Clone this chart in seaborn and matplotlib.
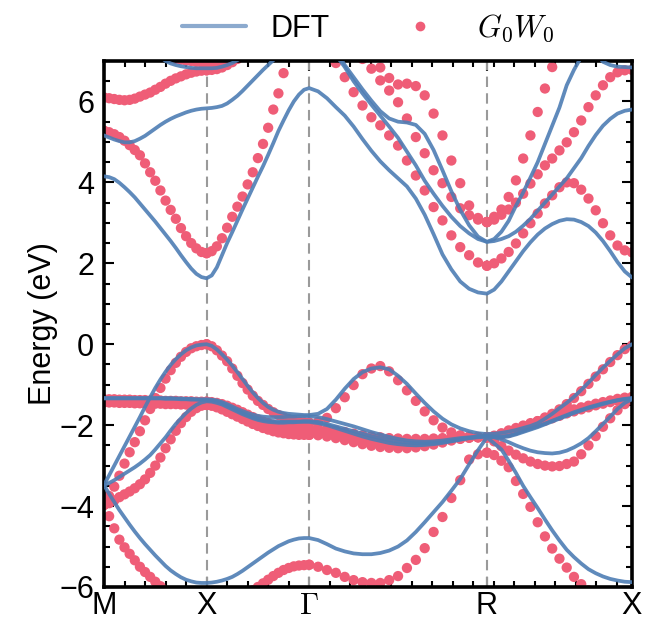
import numpy as np
import pandas as pd
import matplotlib
matplotlib.use("Agg")
import matplotlib.pyplot as plt
import seaborn as sns
from matplotlib.ticker import MultipleLocator
from matplotlib.lines import Line2D

# ---------------- path ----------------
kpath_labels = ["M", "X", r"$\Gamma$", "R", "X"]
segment_lengths = [1.0, 1.0, np.sqrt(3.0), np.sqrt(2.0)]
n_per_segment = 21

# ---------------- DFT bands (segments: M-X, X-G, G-R, R-X) ----------------
dft_v1 = [
    [-3.48,-3.24,-3.0,-2.76,-2.52,-2.28,-2.04,-1.8,-1.55,-1.31,-1.08,-0.87,-0.68,-0.51,-0.37,-0.25,-0.15,-0.08,-0.03,-0.01,0.0],
    [0.0,-0.04,-0.13,-0.25,-0.38,-0.53,-0.69,-0.86,-1.03,-1.19,-1.33,-1.45,-1.55,-1.62,-1.67,-1.7,-1.72,-1.73,-1.74,-1.75,-1.75],
    [-1.75,-1.72,-1.6,-1.37,-1.1,-0.86,-0.69,-0.6,-0.57,-0.62,-0.78,-0.98,-1.22,-1.45,-1.66,-1.84,-1.98,-2.08,-2.15,-2.2,-2.22],
    [-2.22,-2.21,-2.19,-2.16,-2.12,-2.07,-2.02,-1.95,-1.84,-1.72,-1.58,-1.45,-1.3,-1.13,-0.95,-0.76,-0.58,-0.41,-0.25,-0.1,0.0],
]
dft_v2 = [
    [-1.33,-1.33,-1.33,-1.33,-1.33,-1.33,-1.33,-1.33,-1.33,-1.33,-1.33,-1.33,-1.33,-1.33,-1.34,-1.34,-1.35,-1.35,-1.36,-1.36,-1.36],
    [-1.36,-1.37,-1.39,-1.43,-1.48,-1.54,-1.6,-1.65,-1.7,-1.74,-1.77,-1.79,-1.8,-1.8,-1.8,-1.8,-1.79,-1.79,-1.78,-1.78,-1.78],
    [-1.78,-1.8,-1.85,-1.91,-1.97,-2.03,-2.1,-2.17,-2.23,-2.29,-2.34,-2.38,-2.4,-2.41,-2.4,-2.38,-2.35,-2.32,-2.3,-2.28,-2.27],
    [-2.27,-2.28,-2.28,-2.26,-2.21,-2.15,-2.09,-2.03,-1.96,-1.89,-1.82,-1.75,-1.68,-1.62,-1.56,-1.51,-1.46,-1.42,-1.38,-1.35,-1.33],
]
dft_v3 = [
    [-1.34,-1.34,-1.34,-1.34,-1.34,-1.34,-1.34,-1.34,-1.34,-1.34,-1.34,-1.34,-1.35,-1.35,-1.35,-1.36,-1.36,-1.37,-1.37,-1.38,-1.38],
    [-1.38,-1.39,-1.42,-1.46,-1.52,-1.58,-1.64,-1.7,-1.75,-1.8,-1.84,-1.87,-1.89,-1.9,-1.91,-1.91,-1.91,-1.91,-1.91,-1.9,-1.9],
    [-1.9,-1.92,-1.97,-2.03,-2.09,-2.15,-2.21,-2.27,-2.32,-2.37,-2.41,-2.43,-2.45,-2.45,-2.44,-2.42,-2.39,-2.35,-2.32,-2.29,-2.28],
    [-2.28,-2.29,-2.3,-2.28,-2.23,-2.17,-2.11,-2.05,-1.98,-1.91,-1.84,-1.77,-1.7,-1.64,-1.58,-1.53,-1.48,-1.43,-1.39,-1.36,-1.34],
]
dft_v4 = [
    [-3.48,-3.43,-3.36,-3.28,-3.2,-3.12,-3.04,-2.95,-2.85,-2.74,-2.6,-2.45,-2.3,-2.13,-1.97,-1.83,-1.7,-1.59,-1.5,-1.44,-1.41],
    [-1.41,-1.42,-1.45,-1.49,-1.55,-1.61,-1.67,-1.73,-1.78,-1.83,-1.87,-1.9,-1.92,-1.93,-1.94,-1.94,-1.93,-1.93,-1.92,-1.92,-1.92],
    [-1.92,-1.95,-2.0,-2.07,-2.14,-2.21,-2.28,-2.34,-2.39,-2.44,-2.47,-2.49,-2.5,-2.49,-2.47,-2.44,-2.4,-2.36,-2.32,-2.3,-2.28],
    [-2.28,-2.3,-2.35,-2.42,-2.5,-2.57,-2.63,-2.67,-2.69,-2.7,-2.68,-2.63,-2.55,-2.45,-2.32,-2.15,-1.97,-1.79,-1.6,-1.45,-1.36],
]
dft_v5 = [
    [-3.48,-3.7,-3.9,-4.1,-4.28,-4.46,-4.63,-4.79,-4.94,-5.08,-5.22,-5.35,-5.48,-5.59,-5.68,-5.76,-5.82,-5.86,-5.89,-5.9,-5.9],
    [-5.9,-5.89,-5.87,-5.84,-5.8,-5.75,-5.68,-5.6,-5.51,-5.42,-5.33,-5.24,-5.15,-5.07,-4.99,-4.93,-4.87,-4.83,-4.8,-4.79,-4.79],
    [-4.79,-4.84,-4.94,-5.05,-5.12,-5.17,-5.19,-5.19,-5.16,-5.1,-5.0,-4.85,-4.64,-4.4,-4.15,-3.9,-3.62,-3.33,-2.97,-2.62,-2.3],
    [-2.3,-2.45,-2.6,-2.88,-3.18,-3.5,-3.78,-4.05,-4.33,-4.6,-4.85,-5.08,-5.26,-5.42,-5.56,-5.66,-5.74,-5.8,-5.84,-5.87,-5.88],
]
dft_c1 = [
    [4.15,4.13,4.08,3.99,3.88,3.76,3.63,3.48,3.33,3.18,3.03,2.87,2.71,2.55,2.38,2.2,2.03,1.87,1.74,1.66,1.63],
    [1.63,1.7,1.9,2.2,2.5,2.77,3.05,3.33,3.6,3.87,4.14,4.4,4.68,4.97,5.27,5.53,5.78,6.0,6.17,6.29,6.33],
    [6.33,6.25,6.08,5.86,5.65,5.38,5.07,4.78,4.52,4.3,4.1,3.9,3.6,3.2,2.72,2.22,1.85,1.55,1.37,1.28,1.25],
    [1.25,1.35,1.55,1.8,2.05,2.3,2.52,2.71,2.86,2.97,3.05,3.09,3.08,3.02,2.92,2.76,2.55,2.3,2.03,1.8,1.65],
]
dft_c2 = [
    [5.16,5.11,5.06,5.02,4.99,4.99,5.02,5.08,5.15,5.24,5.33,5.42,5.5,5.57,5.63,5.68,5.73,5.77,5.8,5.82,5.83],
    [5.83,5.84,5.86,5.89,5.95,6.04,6.14,6.26,6.39,6.52,6.65,6.78,6.9,7.02,7.14,7.25,7.35,7.43,7.49,7.52,7.53],
    [7.53,7.5,7.4,7.15,6.85,6.5,6.2,5.92,5.65,5.38,5.1,4.76,4.42,4.04,3.72,3.42,3.15,2.92,2.74,2.6,2.53],
    [2.53,2.55,2.6,2.67,2.78,2.93,3.1,3.3,3.5,3.7,3.9,4.1,4.35,4.6,4.9,5.17,5.4,5.57,5.7,5.77,5.8],
]
dft_c3 = [
    [8.2,8.15,8.1,8.0,7.9,7.8,7.7,7.55,7.42,7.3,7.2,7.1,7.0,6.94,6.9,6.87,6.85,6.83,6.82,6.82,6.82],
    [6.82,6.82,6.83,6.86,6.9,6.95,7.02,7.1,7.2,7.3,7.4,7.5,7.6,7.7,7.8,7.88,7.95,8.0,8.03,8.05,8.05],
    [8.05,7.95,7.7,7.25,6.9,6.6,6.3,6.02,5.76,5.58,5.5,5.48,5.42,5.2,4.8,4.3,3.78,3.32,2.94,2.66,2.53],
    [2.53,2.6,2.78,3.05,3.42,3.75,4.12,4.5,4.95,5.4,5.85,6.4,6.78,7.1,7.25,7.2,6.98,6.9,6.86,6.85,6.84],
]

# ---------------- G0W0 bands ----------------
gw_v1 = [
    [-3.97,-3.75,-3.52,-3.25,-2.95,-2.67,-2.42,-2.15,-1.88,-1.6,-1.33,-1.08,-0.85,-0.64,-0.46,-0.31,-0.19,-0.1,-0.05,-0.02,0.0],
    [0.0,-0.05,-0.15,-0.28,-0.42,-0.6,-0.78,-0.96,-1.12,-1.27,-1.4,-1.5,-1.6,-1.68,-1.75,-1.8,-1.85,-1.88,-1.91,-1.93,-1.94],
    [-1.94,-1.92,-1.82,-1.58,-1.31,-1.01,-0.74,-0.6,-0.54,-0.67,-0.89,-1.14,-1.4,-1.66,-1.88,-2.06,-2.18,-2.25,-2.28,-2.29,-2.3],
    [-2.3,-2.28,-2.24,-2.19,-2.13,-2.06,-1.98,-1.9,-1.81,-1.72,-1.61,-1.48,-1.33,-1.16,-0.98,-0.8,-0.62,-0.44,-0.27,-0.12,-0.03],
]
gw_v2 = [
    [-1.36,-1.36,-1.36,-1.37,-1.37,-1.37,-1.38,-1.38,-1.38,-1.39,-1.39,-1.39,-1.4,-1.4,-1.4,-1.41,-1.41,-1.41,-1.42,-1.42,-1.42],
    [-1.42,-1.43,-1.45,-1.48,-1.52,-1.57,-1.62,-1.68,-1.74,-1.8,-1.86,-1.91,-1.95,-1.99,-2.02,-2.04,-2.06,-2.07,-2.08,-2.08,-2.08],
    [-2.08,-2.08,-2.1,-2.13,-2.17,-2.21,-2.25,-2.28,-2.3,-2.32,-2.33,-2.34,-2.34,-2.34,-2.33,-2.32,-2.31,-2.3,-2.3,-2.3,-2.3],
    [-2.3,-2.26,-2.2,-2.13,-2.07,-2.01,-1.95,-1.9,-1.85,-1.79,-1.72,-1.66,-1.61,-1.56,-1.52,-1.47,-1.43,-1.39,-1.35,-1.32,-1.3],
]
gw_v3 = [
    [-1.44,-1.44,-1.44,-1.45,-1.45,-1.45,-1.46,-1.46,-1.46,-1.47,-1.47,-1.47,-1.48,-1.48,-1.48,-1.49,-1.49,-1.49,-1.5,-1.5,-1.5],
    [-1.5,-1.51,-1.53,-1.56,-1.6,-1.65,-1.7,-1.76,-1.82,-1.88,-1.94,-1.99,-2.03,-2.07,-2.1,-2.12,-2.14,-2.15,-2.16,-2.16,-2.16],
    [-2.16,-2.17,-2.2,-2.24,-2.29,-2.34,-2.38,-2.42,-2.45,-2.47,-2.48,-2.48,-2.47,-2.45,-2.42,-2.39,-2.36,-2.33,-2.31,-2.3,-2.3],
    [-2.3,-2.28,-2.23,-2.17,-2.11,-2.05,-1.99,-1.94,-1.89,-1.83,-1.77,-1.71,-1.66,-1.61,-1.56,-1.51,-1.47,-1.43,-1.39,-1.36,-1.34],
]
gw_v4 = [
    [-3.97,-3.93,-3.86,-3.78,-3.71,-3.64,-3.56,-3.46,-3.34,-3.18,-3.0,-2.8,-2.57,-2.35,-2.14,-1.95,-1.8,-1.67,-1.58,-1.52,-1.5],
    [-1.5,-1.52,-1.56,-1.61,-1.67,-1.73,-1.79,-1.85,-1.91,-1.97,-2.02,-2.07,-2.11,-2.15,-2.18,-2.2,-2.22,-2.23,-2.24,-2.24,-2.24],
    [-2.24,-2.25,-2.28,-2.32,-2.37,-2.42,-2.47,-2.51,-2.54,-2.56,-2.57,-2.57,-2.55,-2.52,-2.48,-2.43,-2.38,-2.34,-2.31,-2.3,-2.3],
    [-2.3,-2.4,-2.52,-2.63,-2.73,-2.82,-2.9,-2.96,-3.0,-3.02,-3.01,-2.96,-2.9,-2.72,-2.5,-2.27,-2.04,-1.83,-1.63,-1.48,-1.38],
]
gw_v5 = [
    [-3.97,-4.25,-4.55,-4.83,-5.02,-5.18,-5.34,-5.5,-5.63,-5.75,-5.87,-5.98,-6.1,-6.2,-6.3,-6.4,-6.48,-6.54,-6.58,-6.6,-6.6],
    [-6.6,-6.6,-6.57,-6.53,-6.47,-6.4,-6.32,-6.24,-6.16,-6.08,-6.0,-5.91,-5.82,-5.73,-5.65,-5.58,-5.53,-5.49,-5.47,-5.46,-5.45],
    [-5.45,-5.5,-5.58,-5.65,-5.75,-5.83,-5.88,-5.9,-5.9,-5.83,-5.73,-5.53,-5.33,-5.04,-4.64,-4.27,-3.8,-3.36,-2.85,-2.72,-2.68],
    [-2.68,-2.74,-2.88,-3.04,-3.38,-3.7,-4.02,-4.4,-4.75,-5.05,-5.3,-5.52,-5.75,-5.93,-6.08,-6.22,-6.35,-6.45,-6.52,-6.57,-6.6],
]
gw_c1 = [
    [5.28,5.24,5.19,5.12,5.03,4.92,4.8,4.67,4.47,4.25,4.04,3.8,3.55,3.32,3.1,2.87,2.67,2.5,2.37,2.28,2.25],
    [2.25,2.3,2.42,2.62,2.88,3.15,3.4,3.65,3.95,4.25,4.6,4.95,5.35,5.8,6.2,6.7,7.1,7.4,7.6,7.7,7.75],
    [7.75,7.6,7.3,6.95,6.6,6.23,5.9,5.61,5.41,5.16,4.91,4.54,4.17,3.8,3.39,3.06,2.69,2.4,2.2,2.02,1.94],
    [1.94,2.0,2.12,2.28,2.49,2.74,2.99,3.23,3.48,3.68,3.88,4.0,3.98,3.82,3.6,3.31,2.99,2.69,2.44,2.32,2.27],
]
gw_c2 = [
    [6.1,6.08,6.06,6.04,6.03,6.04,6.07,6.12,6.17,6.22,6.29,6.36,6.44,6.51,6.57,6.62,6.67,6.71,6.74,6.76,6.77],
    [6.77,6.78,6.8,6.84,6.9,6.97,7.05,7.15,7.25,7.36,7.47,7.58,7.68,7.78,7.87,7.95,8.02,8.08,8.12,8.14,8.15],
    [8.15,8.12,8.03,7.88,7.6,7.3,7.05,6.81,6.52,6.27,5.98,5.58,5.12,4.72,4.3,3.98,3.64,3.36,3.19,3.08,3.02],
    [3.02,3.08,3.2,3.33,3.5,3.72,3.97,4.2,4.42,4.59,4.79,4.99,5.24,5.53,5.86,6.15,6.4,6.6,6.72,6.77,6.78],
]
gw_c3 = [
    [7.9,7.85,7.8,7.75,7.7,7.6,7.5,7.4,7.3,7.25,7.2,7.15,7.1,7.07,7.05,7.03,7.01,7.0,6.98,6.97,6.97],
    [6.97,6.98,7.02,7.08,7.18,7.3,7.4,7.5,7.6,7.7,7.8,7.9,8.0,8.1,8.2,8.3,8.35,8.4,8.45,8.5,8.5],
    [8.5,8.5,8.4,8.3,8.1,7.85,7.55,7.2,6.84,6.58,6.42,6.44,6.38,6.15,5.7,5.16,4.54,3.98,3.43,3.12,3.02],
    [3.02,3.15,3.33,3.64,4.05,4.59,5.16,5.74,6.32,6.85,7.3,7.6,7.8,7.9,7.8,7.6,7.4,7.25,7.15,7.1,7.1],
]

dft_bands = {"v1": dft_v1, "v2": dft_v2, "v3": dft_v3, "v4": dft_v4, "v5": dft_v5,
             "c1": dft_c1, "c2": dft_c2, "c3": dft_c3}
gw_bands = {"v1": gw_v1, "v2": gw_v2, "v3": gw_v3, "v4": gw_v4, "v5": gw_v5,
            "c1": gw_c1, "c2": gw_c2, "c3": gw_c3}

# ---------------- k coordinates ----------------
nodes = np.concatenate([[0.0], np.cumsum(segment_lengths)])
k_segments = [np.linspace(nodes[i], nodes[i + 1], n_per_segment) for i in range(4)]
k_all = np.concatenate(k_segments)


def to_frame(bands):
    rows = []
    for name, segs in bands.items():
        e = np.concatenate([np.asarray(s, float) for s in segs])
        rows.append(pd.DataFrame({"k": k_all, "E": e, "band": name}))
    return pd.concat(rows, ignore_index=True)


df_dft = to_frame(dft_bands)
df_gw = to_frame(gw_bands)

# ---------------- style ----------------
sns.set_theme(style="ticks")
plt.rcParams["font.family"] = ["Liberation Sans", "DejaVu Sans"]
plt.rcParams["mathtext.fontset"] = "cm"
plt.rcParams["axes.unicode_minus"] = True
for key in ["text.color", "axes.labelcolor", "xtick.color", "ytick.color",
            "axes.edgecolor", "xtick.labelcolor", "ytick.labelcolor"]:
    plt.rcParams[key] = "black"

blue = "#4e7db4"
pink = "#ef5d77"
FS = 22

fig = plt.figure(figsize=(6.55, 6.24), dpi=100)
ax = fig.add_axes([104 / 655, 1 - 587 / 624, (632 - 104) / 655, (587 - 61) / 624])

for xv in nodes[1:-1]:
    ax.axvline(xv, color="#9a9a9a", lw=1.5, ls=(0, (5, 3)), zorder=1)

sns.scatterplot(data=df_gw, x="k", y="E", color=pink, s=55, edgecolor="none",
                linewidth=0, ax=ax, legend=False, zorder=2)
sns.lineplot(data=df_dft, x="k", y="E", units="band", estimator=None, sort=False,
             color=blue, lw=2.7, alpha=0.9, ax=ax, legend=False, zorder=3)

ax.set_xlim(nodes[0], nodes[-1])
ax.set_ylim(-6, 7)
ax.set_xticks(nodes)
ax.set_xticklabels(kpath_labels, fontsize=FS)
ax.xaxis.set_minor_locator(MultipleLocator(0.2))
ax.yaxis.set_major_locator(MultipleLocator(2))
ax.yaxis.set_minor_locator(MultipleLocator(0.5))
ax.tick_params(axis="both", which="both", direction="in", top=True, right=True,
               labelsize=FS, width=1.5, colors="black")
ax.tick_params(axis="both", which="major", length=7)
ax.tick_params(axis="both", which="minor", length=4)
ax.tick_params(axis="x", which="major", pad=3)
ax.tick_params(axis="y", which="major", pad=7)
ax.set_xlabel("")
ax.set_ylabel("Energy (eV)", fontsize=FS, labelpad=1, color="black")
for sp in ax.spines.values():
    sp.set_linewidth(2.6)
    sp.set_color("black")

handles = [
    Line2D([0], [0], color=blue, lw=3, alpha=0.65),
    Line2D([0], [0], marker="o", color="none", markerfacecolor=pink,
           markeredgecolor="none", markersize=7),
]
ax.legend(handles, ["DFT", r"$G_0W_0$"], loc="lower center", bbox_to_anchor=(0.5, 1.0),
          ncol=2, frameon=False, fontsize=FS, handlelength=2.1, handletextpad=0.8,
          columnspacing=1.9, borderaxespad=0.15)

fig.savefig("out.png", dpi=100)
